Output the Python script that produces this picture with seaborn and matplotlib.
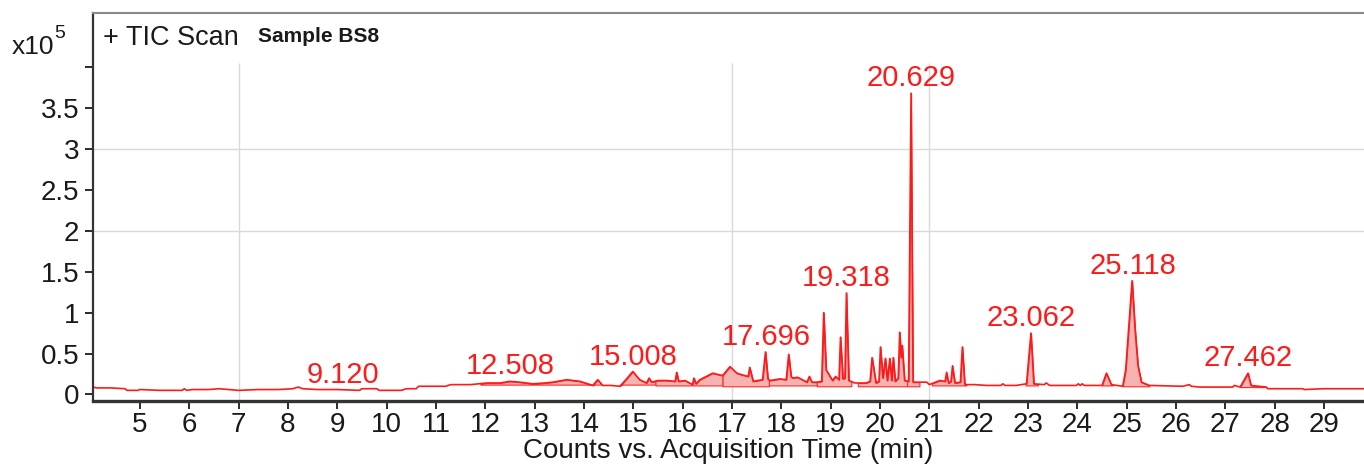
import numpy as np
import pandas as pd
import matplotlib
matplotlib.use("Agg")
import matplotlib.pyplot as plt
import seaborn as sns

# TIC trace (time in min, counts in units of 1e5)
tic_time = [
    # 4 - 11.3 min, flat baseline
    4.05, 4.12, 4.40, 4.70, 4.74, 4.96, 5.00, 5.40, 5.86, 5.90, 5.95,
    6.06, 6.40, 6.60, 6.80, 7.00, 7.40, 7.80, 8.10, 8.21, 8.30, 8.60,
    9.00, 9.45, 9.50, 9.80, 9.85, 10.30, 10.40, 10.60, 10.65, 11.20, 11.30,
    # 11.4 - 14.7 min
    11.42, 11.70, 12.03, 12.30, 12.50, 12.70, 12.97, 13.20, 13.37, 13.65,
    13.92, 14.18, 14.28, 14.38, 14.55, 14.73,
    # 14.8 - 17.1 min
    14.85, 14.99, 15.13, 15.27, 15.32, 15.37, 15.50, 15.68, 15.85, 15.88,
    15.92, 16.05, 16.20, 16.23, 16.27, 16.35, 16.61, 16.81, 16.96, 17.10,
    # 17.2 - 21 min, dense region
    17.20, 17.33, 17.36, 17.43, 17.62, 17.68, 17.73, 17.77, 17.97, 18.10,
    18.15, 18.20, 18.23, 18.33, 18.52, 18.57, 18.62, 18.72, 18.82, 18.86,
    18.91, 19.04, 19.10, 19.17, 19.20, 19.25, 19.29, 19.32, 19.37, 19.49,
    19.72, 19.80, 19.84, 19.92, 19.98, 20.01, 20.06, 20.11, 20.15, 20.20,
    20.24, 20.27, 20.31, 20.37, 20.40, 20.43, 20.45, 20.50, 20.58, 20.63,
    20.67, 20.74, 20.95, 21.00,
    # 21.2 - 29.8 min
    21.21, 21.32, 21.35, 21.39, 21.44, 21.47, 21.52, 21.63, 21.67, 21.72,
    21.92, 22.16, 22.45, 22.49, 22.53, 22.76, 22.97, 23.06, 23.12, 23.33,
    23.37, 23.44, 23.98, 24.02, 24.06, 24.10, 24.14, 24.50, 24.59, 24.69,
    24.92, 24.98, 25.04, 25.11, 25.17, 25.23, 25.30, 25.46, 26.14, 26.27,
    26.31, 26.48, 27.15, 27.18, 27.30, 27.46, 27.52, 27.83, 27.86, 28.30,
    28.57, 28.60, 29.00, 29.40, 29.81,
]
tic_counts = [
    0.09, 0.08, 0.08, 0.07, 0.05, 0.05, 0.06, 0.05, 0.05, 0.07, 0.05,
    0.06, 0.06, 0.07, 0.06, 0.05, 0.06, 0.06, 0.07, 0.09, 0.07, 0.06,
    0.06, 0.05, 0.07, 0.07, 0.05, 0.05, 0.07, 0.07, 0.10, 0.10, 0.12,
    0.12, 0.12, 0.14, 0.14, 0.16, 0.15, 0.13, 0.14, 0.15, 0.18,
    0.16, 0.11, 0.18, 0.11, 0.11, 0.10,
    0.18, 0.28, 0.18, 0.14, 0.20, 0.15, 0.17, 0.17, 0.16, 0.27,
    0.16, 0.17, 0.12, 0.20, 0.13, 0.18, 0.26, 0.23, 0.34, 0.26,
    0.24, 0.22, 0.33, 0.16, 0.18, 0.52, 0.19, 0.17, 0.19, 0.18,
    0.49, 0.22, 0.20, 0.21, 0.15, 0.22, 0.15, 0.15, 0.16, 1.00,
    0.30, 0.17, 0.22, 0.18, 0.70, 0.19, 0.20, 1.24, 0.17, 0.14,
    0.14, 0.16, 0.45, 0.14, 0.16, 0.58, 0.20, 0.44, 0.17, 0.44,
    0.17, 0.45, 0.16, 0.20, 0.76, 0.45, 0.60, 0.17, 0.16, 3.68,
    0.15, 0.15, 0.15, 0.12,
    0.17, 0.16, 0.27, 0.14, 0.16, 0.35, 0.14, 0.15, 0.58, 0.12,
    0.12, 0.11, 0.11, 0.13, 0.11, 0.11, 0.13, 0.75, 0.13, 0.12,
    0.14, 0.11, 0.11, 0.13, 0.11, 0.13, 0.11, 0.11, 0.26, 0.12,
    0.10, 0.30, 0.80, 1.39, 0.80, 0.35, 0.15, 0.11, 0.10, 0.12,
    0.10, 0.09, 0.09, 0.11, 0.09, 0.26, 0.11, 0.09, 0.07, 0.07,
    0.07, 0.06, 0.07, 0.07, 0.07,
]

# integrated peak areas (start, end, baseline level)
fill_start = [11.90, 14.73, 15.45, 16.81, 17.75, 18.72, 19.55, 20.55, 21.05, 22.95, 24.50, 24.92, 27.30]
fill_end = [14.35, 15.45, 16.81, 17.75, 18.72, 19.42, 20.55, 20.80, 21.75, 23.20, 24.72, 25.46, 27.83]
fill_base = [0.12, 0.12, 0.11, 0.10, 0.11, 0.10, 0.10, 0.10, 0.11, 0.11, 0.11, 0.10, 0.09]

peak_labels = ["9.120", "12.508", "15.008", "17.696", "19.318", "20.629", "23.062", "25.118", "27.462"]

x_ticks = list(range(5, 30))
y_ticks = [0, 0.5, 1, 1.5, 2, 2.5, 3, 3.5, 4]
y_tick_labels = ["0", "0.5", "1", "1.5", "2", "2.5", "3", "3.5", ""]
grid_x = [7, 17, 21]
grid_y = [2, 3]

df = pd.DataFrame({"time": tic_time, "counts": tic_counts})

sns.set_theme(style="white")
plt.rcParams["font.family"] = ["Liberation Sans", "DejaVu Sans"]

fig = plt.figure(figsize=(13.64, 4.66), dpi=100)
ax = fig.add_axes([93 / 1364, 1 - 401 / 466, 1 - 93 / 1364, (401 - 13) / 466])

x_min, x_max = 4.05, 29.81
y_min, y_max = -0.08, 4.66

# light grid
ax.vlines(grid_x, y_min, 4.05, color="#d9d9d9", lw=1, zorder=0)
ax.hlines(grid_y, x_min, x_max, color="#d9d9d9", lw=1, zorder=0)

# shaded peak areas
t = df["time"].to_numpy()
c = df["counts"].to_numpy()
for s, e, b in zip(fill_start, fill_end, fill_base):
    m = (t >= s) & (t <= e)
    tt = np.concatenate([[s], t[m], [e]])
    cc = np.concatenate([[np.interp(s, t, c)], c[m], [np.interp(e, t, c)]])
    ax.fill_between(tt, cc, b, facecolor="#f7b2b2", edgecolor="#ff2a2a", lw=0.8, zorder=1)

sns.lineplot(data=df, x="time", y="counts", color="#ff1a1a", lw=1.2,
             estimator=None, sort=False, ax=ax, zorder=2)

# retention time labels
for lab in peak_labels:
    rt = float(lab)
    near = (t > rt - 0.12) & (t < rt + 0.12)
    top = max(np.interp(rt, t, c), c[near].max(initial=0))
    ax.annotate(lab, xy=(rt, top), xytext=(0, 5), textcoords="offset points",
                ha="center", va="baseline", color="#ff1a1a", fontsize=21)

ax.set_xlim(x_min, x_max)
ax.set_ylim(y_min, y_max)
ax.set_xticks(x_ticks)
ax.set_yticks(y_ticks)
ax.set_yticklabels(y_tick_labels)
ax.tick_params(axis="both", direction="out", length=6, width=1.3, labelsize=20,
               colors="#1a1a1a", bottom=True, left=True)
ax.tick_params(axis="x", pad=2)
ax.tick_params(axis="y", pad=4)
ax.set_xlabel("Counts vs. Acquisition Time (min)", fontsize=20, color="#1a1a1a", labelpad=0)
ax.set_ylabel("")

for side in ["left", "bottom", "top", "right"]:
    ax.spines[side].set_visible(True)
ax.spines["left"].set_color("#333333")
ax.spines["left"].set_linewidth(1.6)
ax.spines["bottom"].set_color("#333333")
ax.spines["bottom"].set_linewidth(2.4)
ax.spines["top"].set_color("#8a8a8a")
ax.spines["top"].set_linewidth(1.5)
ax.spines["right"].set_visible(False)

ax.text(0.008, 0.936, "+ TIC Scan", transform=ax.transAxes, fontsize=19.5,
        va="center", ha="left", color="#1a1a1a")
ax.text(0.13, 0.94, "Sample BS8", transform=ax.transAxes, fontsize=15,
        fontweight="bold", va="center", ha="left", color="#1a1a1a")

fig.text(12 / 1364, 1 - 47 / 466, "x10", fontsize=19, va="center", ha="left", color="#1a1a1a")
fig.text(54 / 1364, 1 - 33 / 466, "5", fontsize=14, va="center", ha="left", color="#1a1a1a")

fig.savefig("out.png", dpi=100)
